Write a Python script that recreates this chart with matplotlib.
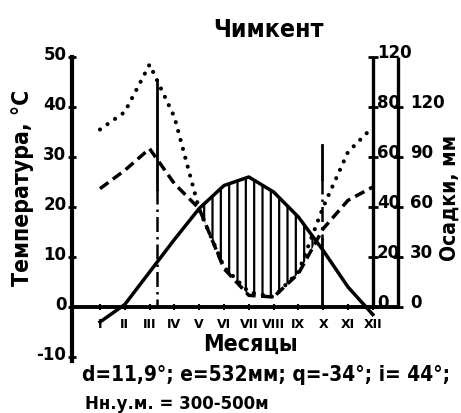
import matplotlib
matplotlib.use('Agg')
import matplotlib.pyplot as plt
import numpy as np
from matplotlib.transforms import ScaledTranslation
from matplotlib import font_manager as fm

FAM = ['DejaVu Sans']
plt.rcParams['font.family'] = FAM
plt.rcParams['font.weight'] = 'bold'
plt.rcParams['hatch.linewidth'] = 1.6
_fp = fm.FontProperties(family='DejaVu Sans', weight='bold', stretch='condensed')
STRETCH = 'condensed' if 'Condensed' in fm.findfont(_fp) else 'normal'

# ---------------- data ----------------
months = np.arange(1, 13)
month_labels = ['I', 'II', 'III', 'IV', 'V', 'VI', 'VII', 'VIII', 'IX', 'X', 'XI', 'XII']
temperature = [-3.0, 0.5, 7.0, 13.5, 19.7, 24.3, 26.0, 23.0, 18.0, 11.3, 4.0, -1.5]
# precipitation curve drawn at scale 10 °C = 20 mm (dotted)
precip_dotted_mm = [71, 78, 97, 76, 39, 16, 6, 4, 14, 40, 62, 72]
# precipitation curve drawn at scale 10 °C = 30 mm (dashed)
precip_dashed_mm = [71, 82, 95, 74, 59, 23, 7, 6, 20, 47, 64, 72]
temp_ticks = [-10, 0, 10, 20, 30, 40, 50]
precip_ticks_a = [0, 20, 40, 60, 80, 100]
precip_labels_a = ['0', '20', '40', '60', '80', '120']
precip_ticks_b = [0, 30, 60, 90, 120]
period_marks = [3.3, 9.95]
period_tops = [45.5, 32.5]

title = 'Чимкент'
ylabel_left = 'Температура, °С'
ylabel_right = 'Осадки, мм'
xlabel = 'Месяцы'
params_line = 'd=11,9°; e=532мм; q=-34°; i= 44°;'
height_line = 'Нн.у.м. = 300-500м'

# ---------------- figure ----------------
W, H = 461, 414
fig = plt.figure(figsize=(W / 100, H / 100), dpi=100)
ax = fig.add_axes([72 / W, 1 - 362 / H, 326 / W, 304 / H])
XL = (-0.129, 13.016)
ax.set_xlim(*XL)
ax.set_ylim(-10.8, 50)
ax.patch.set_alpha(0)

for s in ['top', 'right']:
    ax.spines[s].set_visible(False)
ax.spines['left'].set_linewidth(3)
ax.spines['bottom'].set_position(('data', 0))
ax.spines['bottom'].set_linewidth(2.8)

RA1, RA2 = 12.0, XL[1]
for xa in (RA1, RA2):
    ax.plot([xa, xa], [0, 50], color='k', lw=2.4, clip_on=False, solid_capstyle='butt')

# left ticks
ax.set_yticks(temp_ticks)
ax.set_yticklabels([str(t) for t in temp_ticks])
ax.tick_params(axis='y', direction='inout', length=6, width=2, labelsize=12, pad=1)
for lbl in ax.get_yticklabels():
    lbl.set_transform(lbl.get_transform() + ScaledTranslation(0, 5 / 100, fig.dpi_scale_trans))

# month ticks
ax.set_xticks(months)
ax.set_xticklabels(month_labels)
ax.tick_params(axis='x', direction='inout', length=5, width=1.5, labelsize=9, pad=5)

# right axis ticks and labels
ta = np.array(precip_ticks_a) / 2.0
tb = np.array(precip_ticks_b) / 3.0
ax.plot([RA1] * len(ta), ta, ls='none', marker='_', ms=7, mew=2, color='k', clip_on=False)
ax.plot([RA2] * len(tb), tb, ls='none', marker='_', ms=7, mew=2, color='k', clip_on=False)
offA = ax.transData + ScaledTranslation(4 / 100, 5 / 100, fig.dpi_scale_trans)
offB = ax.transData + ScaledTranslation(12 / 100, 5 / 100, fig.dpi_scale_trans)
for v, l in zip(ta, precip_labels_a):
    ax.text(RA1, v, l, transform=offA, ha='left', va='center', fontsize=12)
for v, l in zip(tb, precip_ticks_b):
    ax.text(RA2, v, str(l), transform=offB, ha='left', va='center', fontsize=12)

# curves
T = np.array(temperature, float)
Pd = np.array(precip_dotted_mm, float) / 2.0
Pq = np.array(precip_dashed_mm, float) / 3.0
ax.fill_between(months, T, Pq, where=T > Pq, interpolate=True, facecolor='none',
                edgecolor='k', hatch='||', linewidth=0)
ax.plot(months, T, color='k', lw=2.5)
ax.plot(months, Pd, color='k', lw=3, ls=(0, (0.01, 2.2)), dash_capstyle='round')
ax.plot(months, Pq, color='k', lw=2.5, ls=(0, (3, 1.6)))

# period marks
m0, m1 = period_marks
ax.plot([m0, m0], [period_tops[0], 23.6], color='k', lw=2)
ax.plot([m0, m0], [23.6, 0], color='k', lw=1.8, ls=(0, (6, 2, 1, 2)))
ax.plot([m1, m1], [period_tops[1], 25.6], color='k', lw=2)
ax.plot([m1, m1], [25.6, 13.6], color='k', lw=1.8, ls=(0, (6, 2, 1, 2)))
ax.plot([m1, m1], [13.6, 0], color='k', lw=2)

# texts
kw = dict(fontstretch=STRETCH)
t_title = fig.text(268 / W, 1 - 30 / H, title, ha='center', va='center', fontsize=22,
                   fontweight='semibold', **kw)
t_yl = fig.text(23 / W, 1 - 188 / H, ylabel_left, rotation=90, ha='center', va='center',
                fontsize=14, **kw)
t_yr = fig.text(450 / W, 1 - 198 / H, ylabel_right, rotation=90, ha='center', va='center',
                fontsize=14, **kw)
t_xl = fig.text(250 / W, 1 - 344 / H, xlabel, ha='center', va='center', fontsize=15, **kw)
t_p = fig.text(82 / W, 1 - 375 / H, params_line, ha='left', va='center', fontsize=14, **kw)
t_h = fig.text(85 / W, 1 - 404 / H, height_line, ha='left', va='center', fontsize=14, **kw)

# fit text sizes to the reference extents
fig.canvas.draw()
for t, target, horiz in [(t_title, 110, True), (t_yl, 197, False), (t_yr, 127, False),
                         (t_xl, 95, True), (t_p, 370, True), (t_h, 185, True)]:
    bb = t.get_window_extent()
    size = bb.width if horiz else bb.height
    t.set_fontsize(t.get_fontsize() * target / size)

fig.savefig('out.png', dpi=100)
